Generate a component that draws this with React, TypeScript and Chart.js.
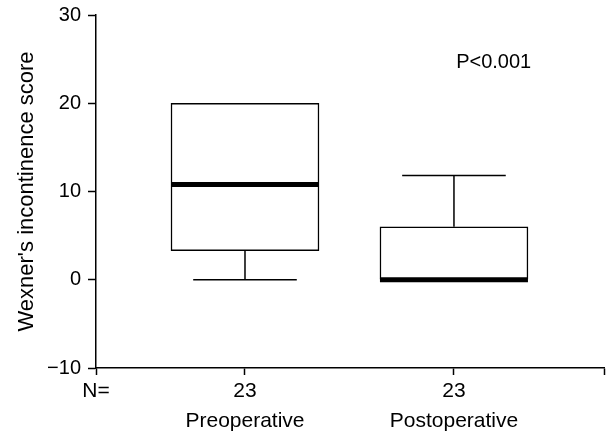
import React, { useEffect, useRef } from "react";
import { Chart, registerables } from "chart.js";

Chart.register(...registerables);

// ---- data ----
const categories = ["Preoperative", "Postoperative"];
const counts = [23, 23];
const whiskerLow = [0, 0];
const quartile1 = [3.3, 0];
const medians = [10.8, 0];
const quartile3 = [20, 6];
const whiskerHigh = [20, 11.8];
const yTickValues = [-10, 0, 10, 20, 30];
const yTitle = "Wexner's incontinence score";
const countLabel = "N=";
const pValueText = "P<0.001";

const FONT = "'Liberation Sans', Arial, Helvetica, sans-serif";
const X_MIN = 0.287;
const X_MAX = 2.718;

const boxPlugin = {
  id: "boxWhiskers",
  afterDatasetsDraw(chart: any) {
    const { ctx, scales } = chart;
    const ys = scales.y;
    const meta = chart.getDatasetMeta(0);
    ctx.save();
    ctx.strokeStyle = "#000";
    meta.data.forEach((bar: any, i: number) => {
      const cx = bar.x;
      const half = bar.width / 2;
      const capHalf = half * 0.7;
      const pq1 = ys.getPixelForValue(quartile1[i]);
      const pq3 = ys.getPixelForValue(quartile3[i]);
      const plo = ys.getPixelForValue(whiskerLow[i]);
      const phi = ys.getPixelForValue(whiskerHigh[i]);
      ctx.lineWidth = 1.5;
      if (whiskerHigh[i] !== quartile3[i]) {
        ctx.beginPath();
        ctx.moveTo(cx, pq3);
        ctx.lineTo(cx, phi);
        ctx.moveTo(cx - capHalf, phi);
        ctx.lineTo(cx + capHalf, phi);
        ctx.stroke();
      }
      if (whiskerLow[i] !== quartile1[i]) {
        ctx.beginPath();
        ctx.moveTo(cx, pq1);
        ctx.lineTo(cx, plo);
        ctx.moveTo(cx - capHalf, plo);
        ctx.lineTo(cx + capHalf, plo);
        ctx.stroke();
      }
      const pm = ys.getPixelForValue(medians[i]);
      ctx.lineWidth = 5;
      ctx.beginPath();
      ctx.moveTo(cx - half, pm);
      ctx.lineTo(cx + half, pm);
      ctx.stroke();
    });
    ctx.restore();
  },
  afterDraw(chart: any) {
    const { ctx, scales } = chart;
    ctx.save();
    ctx.fillStyle = "#000";
    ctx.font = `20px ${FONT}`;
    ctx.textAlign = "center";
    ctx.textBaseline = "alphabetic";
    ctx.fillText(pValueText, scales.x.getPixelForValue(2.19), scales.y.getPixelForValue(24));
    ctx.restore();
  },
};

export default function App() {
  const ref = useRef<HTMLCanvasElement>(null);
  useEffect(() => {
    document.body.style.margin = "0";
    const chart = new Chart(ref.current as HTMLCanvasElement, {
      type: "bar",
      data: {
        datasets: [
          {
            data: categories.map((c, i) => ({ x: i + 1, y: [quartile1[i], quartile3[i]] })) as any,
            backgroundColor: "#fff",
            borderColor: "#000",
            borderWidth: 1.5,
            borderSkipped: false,
            barThickness: 148,
          },
        ],
      },
      options: {
        responsive: false,
        animation: false,
        events: [],
        layout: { padding: { top: 15, right: 8, left: 0, bottom: 0 } },
        plugins: { legend: { display: false }, tooltip: { enabled: false } },
        scales: {
          x: {
            type: "linear",
            min: X_MIN,
            max: X_MAX,
            offset: false,
            afterBuildTicks: (s: any) => {
              s.ticks = [{ value: X_MIN }, ...categories.map((c, i) => ({ value: i + 1 })), { value: X_MAX }];
            },
            afterFit: (s: any) => {
              s.height = 67;
              s.paddingLeft = 0;
              s.paddingRight = 0;
            },
            grid: {
              drawOnChartArea: false,
              drawTicks: true,
              tickLength: 7,
              tickWidth: 1.5,
              tickColor: "#000",
              offset: false,
            },
            border: { display: true, color: "#000", width: 1.5 },
            ticks: {
              autoSkip: false,
              maxRotation: 0,
              padding: 1,
              color: "#000",
              font: { family: FONT, size: 21, lineHeight: 1.43 },
              callback: (v: any) => {
                if (v === X_MIN) return countLabel;
                const idx = Math.round(v) - 1;
                if (Math.abs(v - (idx + 1)) < 1e-6 && idx >= 0 && idx < categories.length) {
                  return [String(counts[idx]), categories[idx]];
                }
                return "";
              },
            },
          },
          y: {
            type: "linear",
            min: -10,
            max: 30,
            afterBuildTicks: (s: any) => {
              s.ticks = yTickValues.map((v) => ({ value: v }));
            },
            afterFit: (s: any) => {
              s.width = 96;
              s.paddingTop = 0;
              s.paddingBottom = 0;
            },
            grid: {
              drawOnChartArea: false,
              drawTicks: true,
              tickLength: 8,
              tickWidth: 1.5,
              tickColor: "#000",
            },
            border: { display: true, color: "#000", width: 1.5 },
            ticks: {
              padding: 7,
              color: "#000",
              font: { family: FONT, size: 20 },
              callback: (v: any) => (v < 0 ? "\u2212" + Math.abs(v) : String(v)),
            },
            title: {
              display: true,
              text: yTitle,
              color: "#000",
              font: { family: FONT, size: 22 },
              padding: { top: 14, bottom: 0 },
            },
          },
        },
      },
      plugins: [boxPlugin],
    });
    return () => chart.destroy();
  }, []);
  return (
    <div style={{ position: "absolute", left: 0, top: 0, width: 612, height: 435, background: "#fff" }}>
      <canvas ref={ref} width={612} height={435} style={{ display: "block", width: 612, height: 435 }} />
    </div>
  );
}
